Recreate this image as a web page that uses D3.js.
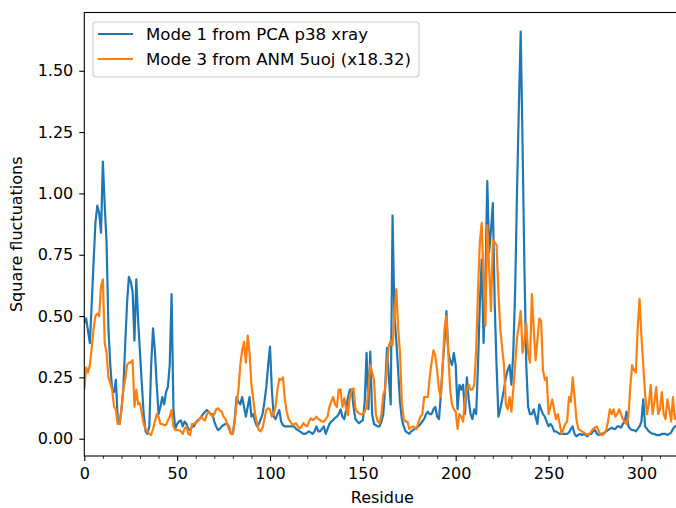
<!DOCTYPE html>
<html>

<head>
    <script src="https://d3js.org/d3.v7.min.js"></script>
    <style>
        body { margin: 0; background: #fff; }
        text { font-family: "DejaVu Sans", sans-serif; }
    </style>
    <script>
        const w = 676
        const h = 508

        // square fluctuations per residue
        const pcaMode1 = [
            0.47, 0.49, 0.44, 0.39, 0.55, 0.72, 0.88, 0.95, 0.92, 0.84,
            1.13, 0.95, 0.80, 0.45, 0.30, 0.20, 0.19, 0.24, 0.08, 0.06,
            0.12, 0.20, 0.38, 0.55, 0.66, 0.64, 0.60, 0.40, 0.65, 0.48,
            0.35, 0.22, 0.10, 0.03, 0.02, 0.05, 0.30, 0.45, 0.36, 0.22,
            0.10, 0.13, 0.17, 0.14, 0.19, 0.21, 0.30, 0.59, 0.12, 0.04,
            0.06, 0.07, 0.075, 0.05, 0.07, 0.06, 0.04, 0.035, 0.05, 0.05,
            0.065, 0.075, 0.08, 0.09, 0.10, 0.11, 0.117, 0.11, 0.10, 0.10,
            0.07, 0.05, 0.035, 0.04, 0.05, 0.056, 0.06, 0.06, 0.04, 0.02,
            0.02, 0.08, 0.17, 0.15, 0.14, 0.17, 0.13, 0.09, 0.13, 0.17,
            0.09, 0.10, 0.07, 0.05, 0.06, 0.08, 0.10, 0.15, 0.21, 0.30,
            0.375, 0.20, 0.09, 0.08, 0.10, 0.117, 0.07, 0.055, 0.05, 0.05,
            0.05, 0.05, 0.05, 0.05, 0.04, 0.035, 0.03, 0.025, 0.02, 0.02,
            0.025, 0.03, 0.025, 0.02, 0.03, 0.05, 0.03, 0.03, 0.04, 0.05,
            0.02, 0.04, 0.06, 0.07, 0.076, 0.085, 0.09, 0.10, 0.12, 0.09,
            0.08, 0.117, 0.17, 0.20, 0.20, 0.13, 0.08, 0.07, 0.063, 0.07,
            0.076, 0.15, 0.35, 0.12, 0.355, 0.10, 0.06, 0.055, 0.05, 0.05,
            0.07, 0.10, 0.21, 0.37, 0.25, 0.14, 0.91, 0.50, 0.40, 0.28,
            0.15, 0.08, 0.05, 0.03, 0.025, 0.02, 0.03, 0.035, 0.04, 0.045,
            0.05, 0.06, 0.07, 0.08, 0.10, 0.11, 0.10, 0.10, 0.12, 0.13,
            0.09, 0.08, 0.18, 0.30, 0.40, 0.52, 0.35, 0.32, 0.30, 0.35,
            0.30, 0.12, 0.22, 0.20, 0.22, 0.10, 0.25, 0.16, 0.10, 0.08,
            0.12, 0.10, 0.30, 0.55, 0.73, 0.39, 0.65, 1.05, 0.76, 0.85,
            0.96, 0.55, 0.30, 0.09, 0.12, 0.16, 0.20, 0.25, 0.28, 0.30,
            0.22, 0.35, 0.60, 1.00, 1.35, 1.66, 1.20, 0.70, 0.30, 0.13,
            0.10, 0.10, 0.12, 0.09, 0.06, 0.14, 0.12, 0.10, 0.09, 0.07,
            0.05, 0.06, 0.05, 0.03, 0.03, 0.025, 0.02, 0.02, 0.02, 0.02,
            0.02, 0.025, 0.04, 0.05, 0.02, 0.01, 0.015, 0.02, 0.015, 0.02,
            0.015, 0.01, 0.02, 0.02, 0.03, 0.035, 0.02, 0.015, 0.02, 0.02,
            0.025, 0.03, 0.035, 0.04, 0.045, 0.04, 0.04, 0.05, 0.05, 0.045,
            0.06, 0.07, 0.11, 0.05, 0.04, 0.035, 0.035, 0.03, 0.04, 0.05,
            0.07, 0.16, 0.05, 0.04, 0.03, 0.025, 0.02, 0.02, 0.015, 0.015,
            0.015, 0.02, 0.02, 0.02, 0.015, 0.02, 0.025, 0.04, 0.05, 0.05,
            0.06
        ]
        const anmMode3 = [
            0.20, 0.29, 0.27, 0.30, 0.37, 0.45, 0.50, 0.51, 0.50, 0.62,
            0.65, 0.39, 0.35, 0.25, 0.226, 0.20, 0.13, 0.12, 0.06, 0.06,
            0.12, 0.20, 0.24, 0.30, 0.31, 0.31, 0.32, 0.13, 0.20, 0.14,
            0.145, 0.10, 0.06, 0.04, 0.028, 0.02, 0.015, 0.04, 0.07, 0.10,
            0.09, 0.06, 0.06, 0.055, 0.056, 0.075, 0.09, 0.117, 0.05, 0.035,
            0.035, 0.035, 0.03, 0.02, 0.04, 0.05, 0.02, 0.015, 0.06, 0.06,
            0.065, 0.07, 0.08, 0.09, 0.08, 0.075, 0.10, 0.11, 0.10, 0.09,
            0.10, 0.12, 0.124, 0.115, 0.11, 0.09, 0.08, 0.06, 0.05, 0.02,
            0.02, 0.07, 0.14, 0.20, 0.30, 0.36, 0.395, 0.31, 0.42, 0.35,
            0.22, 0.158, 0.10, 0.063, 0.035, 0.03, 0.045, 0.08, 0.117, 0.124,
            0.12, 0.09, 0.10, 0.13, 0.20, 0.245, 0.24, 0.25, 0.16, 0.11,
            0.08, 0.07, 0.056, 0.06, 0.063, 0.05, 0.042, 0.05, 0.063, 0.055,
            0.05, 0.07, 0.083, 0.076, 0.08, 0.09, 0.08, 0.076, 0.07, 0.07,
            0.08, 0.09, 0.13, 0.15, 0.17, 0.14, 0.13, 0.20, 0.20, 0.13,
            0.165, 0.12, 0.096, 0.17, 0.20, 0.205, 0.124, 0.11, 0.103, 0.10,
            0.10, 0.11, 0.13, 0.20, 0.30, 0.27, 0.24, 0.10, 0.07, 0.063,
            0.10, 0.18, 0.20, 0.30, 0.38, 0.40, 0.38, 0.50, 0.61, 0.45,
            0.35, 0.15, 0.08, 0.07, 0.07, 0.04, 0.045, 0.05, 0.045, 0.04,
            0.07, 0.09, 0.10, 0.17, 0.17, 0.17, 0.25, 0.31, 0.36, 0.34,
            0.28, 0.20, 0.17, 0.30, 0.45, 0.50, 0.35, 0.20, 0.14, 0.12,
            0.11, 0.04, 0.10, 0.09, 0.07, 0.16, 0.20, 0.22, 0.20, 0.20,
            0.22, 0.36, 0.60, 0.80, 0.88, 0.65, 0.46, 0.87, 0.70, 0.52,
            0.81, 0.80, 0.79, 0.60, 0.45, 0.37, 0.30, 0.14, 0.12, 0.17,
            0.11, 0.20, 0.30, 0.41, 0.46, 0.52, 0.35, 0.40, 0.47, 0.35,
            0.31, 0.59, 0.45, 0.32, 0.40, 0.49, 0.48, 0.28, 0.24, 0.25,
            0.10, 0.13, 0.16, 0.12, 0.08, 0.10, 0.06, 0.02, 0.04, 0.06,
            0.07, 0.17, 0.15, 0.25, 0.17, 0.08, 0.04, 0.035, 0.03, 0.025,
            0.02, 0.016, 0.02, 0.03, 0.04, 0.045, 0.05, 0.03, 0.016, 0.016,
            0.02, 0.035, 0.07, 0.12, 0.10, 0.12, 0.09, 0.10, 0.12, 0.10,
            0.08, 0.07, 0.06, 0.09, 0.21, 0.30, 0.28, 0.27, 0.45, 0.57,
            0.42, 0.30, 0.18, 0.10, 0.14, 0.22, 0.10, 0.15, 0.21, 0.10,
            0.12, 0.19, 0.10, 0.08, 0.16, 0.12, 0.07, 0.17, 0.08, 0.10,
            0.12
        ]
        const seriesNames = ["Mode 1 from PCA p38 xray", "Mode 3 from ANM 5uoj (x18.32)"]
        const seriesColors = ["#1f77b4", "#ff7f0e"]
        const xTicks = [0, 50, 100, 150, 200, 250, 300]
        const yTicks = [0, 0.25, 0.5, 0.75, 1.0, 1.25, 1.5]

        function drawChart() {
            const left = 84.3, right = 680.4, top = 12.5, bottom = 456
            const fs = "16px"

            const svg = d3.select("body").append("svg")
                .attr("width", w)
                .attr("height", h)

            const x = d3.scaleLinear().domain([0, 321]).range([left, right])
            const y = d3.scaleLinear().domain([-0.0705, 1.7375]).range([bottom, top])

            svg.append("clipPath").attr("id", "plot-clip")
                .append("rect")
                .attr("x", left).attr("y", top)
                .attr("width", right - left).attr("height", bottom - top)

            const line = d3.line()
                .x((d, i) => x(i))
                .y(d => y(d))

            // blue drawn first, orange on top (same order as the legend)
            const lines = svg.append("g").attr("clip-path", "url(#plot-clip)")
            ;[pcaMode1, anmMode3].forEach((series, k) => {
                lines.append("path")
                    .datum(series)
                    .attr("d", line)
                    .attr("fill", "none")
                    .attr("stroke", seriesColors[k])
                    .attr("stroke-width", 2.2)
                    .attr("stroke-linejoin", "round")
            })

            // x axis with minor ticks every 10
            const xAxis = svg.append("g")
                .attr("transform", `translate(0,${bottom})`)
                .call(d3.axisBottom(x).tickValues(xTicks).tickSize(5).tickPadding(7)
                    .tickFormat(d3.format("d")))
            svg.append("g")
                .attr("transform", `translate(0,${bottom})`)
                .call(d3.axisBottom(x).tickValues(d3.range(0, 321, 10).filter(v => v % 50 !== 0))
                    .tickSize(2.9).tickFormat(""))
                .call(g => g.select(".domain").remove())
                .selectAll("line").attr("stroke-width", 0.8)

            const yAxis = svg.append("g")
                .attr("transform", `translate(${left},0)`)
                .call(d3.axisLeft(y).tickValues(yTicks).tickSize(5).tickPadding(6)
                    .tickFormat(d3.format(".2f")))

            ;[xAxis, yAxis].forEach(g => {
                g.select(".domain").remove()
                g.selectAll("line").attr("stroke-width", 1.1)
                g.selectAll("text")
                    .attr("font-size", fs)
                    .attr("font-family", "DejaVu Sans")
                    .attr("fill", "#000")
            })

            // spines
            svg.append("rect")
                .attr("x", left).attr("y", top)
                .attr("width", right - left).attr("height", bottom - top)
                .attr("fill", "none")
                .attr("stroke", "#000")
                .attr("stroke-width", 1.1)

            svg.append("text")
                .attr("x", (left + right) / 2)
                .attr("y", 503)
                .attr("text-anchor", "middle")
                .attr("font-size", fs)
                .text("Residue")

            svg.append("text")
                .attr("transform", `translate(22,${(top + bottom) / 2}) rotate(-90)`)
                .attr("text-anchor", "middle")
                .attr("font-size", fs)
                .text("Square fluctuations")

            // legend
            const legend = svg.append("g")
            legend.append("rect")
                .attr("x", 93).attr("y", 22)
                .attr("width", 326).attr("height", 55)
                .attr("rx", 3)
                .attr("fill", "#fff").attr("fill-opacity", 0.8)
                .attr("stroke", "#cccccc").attr("stroke-width", 1.1)
            seriesNames.forEach((name, k) => {
                const ly = 34 + k * 25
                legend.append("line")
                    .attr("x1", 98).attr("x2", 133)
                    .attr("y1", ly).attr("y2", ly)
                    .attr("stroke", seriesColors[k])
                    .attr("stroke-width", 2.2)
                legend.append("text")
                    .attr("x", 146).attr("y", ly + 6)
                    .attr("font-size", "16.6px")
                    .text(name)
            })
        }
    </script>
</head>

<body onload="drawChart()">
</body>

</html>
